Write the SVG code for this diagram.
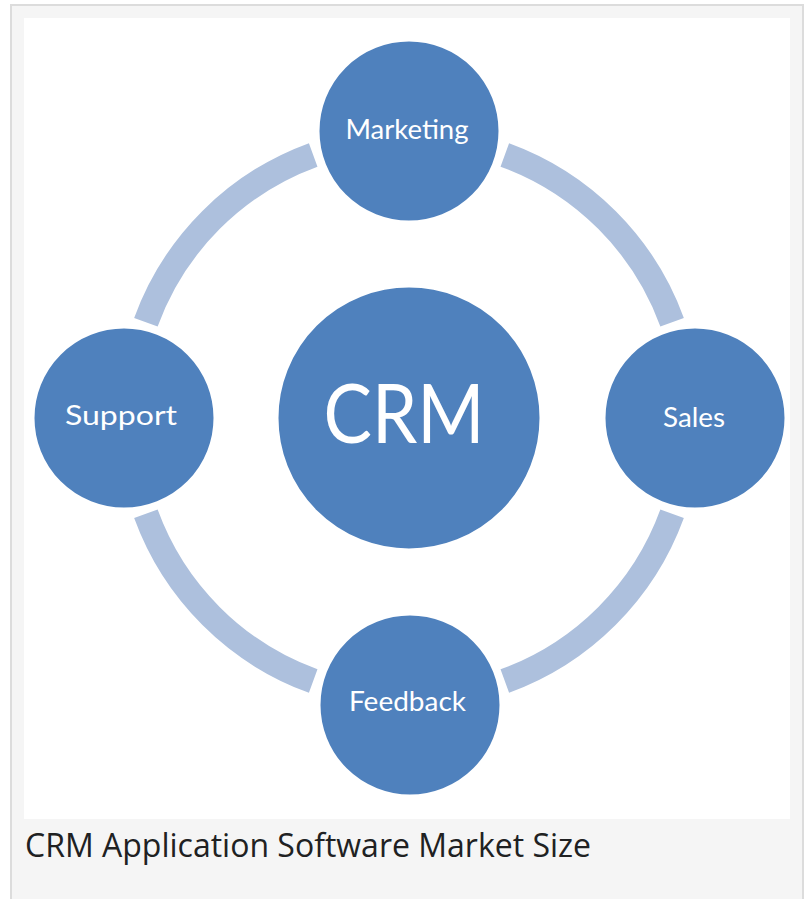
<svg xmlns="http://www.w3.org/2000/svg" width="808" height="899" viewBox="0 0 808 899">
<style>
.node{fill:#4f81bd;stroke:#ffffff;stroke-width:3}
.lbl{fill:#ffffff;font-family:Lato,"Open Sans",sans-serif;font-size:27px;text-anchor:middle}
.ring{fill:none;stroke:#adc0dd;stroke-width:25;stroke-linecap:butt}
.cap{fill:#202122;font-family:"Open Sans","Noto Sans",sans-serif;font-size:32px}
</style>
<rect x="11" y="5" width="792" height="920" fill="#f5f5f5" stroke="#dcdcdc" stroke-width="2"/>
<rect x="24" y="18" width="766" height="801" fill="#ffffff"/>
<g id="connectors">
<path class="ring" d="M 145.9 322.2 A 280 280 0 0 1 313.2 154.9"/>
<path class="ring" d="M 504.8 154.9 A 280 280 0 0 1 672.1 322.2"/>
<path class="ring" d="M 672.1 513.8 A 280 280 0 0 1 504.8 681.1"/>
<path class="ring" d="M 313.2 681.1 A 280 280 0 0 1 145.9 513.8"/>
</g>
<g id="crm">
<circle class="node" cx="409" cy="418" r="132"/>
<text x="404" y="443" fill="#ffffff" font-family="Lato,'Open Sans',sans-serif" font-size="81" text-anchor="middle" textLength="161" lengthAdjust="spacingAndGlyphs">CRM</text>
</g>
<g id="marketing">
<circle class="node" cx="409" cy="131" r="91"/>
<text class="lbl" x="407" y="139" textLength="123" lengthAdjust="spacingAndGlyphs">Marketing</text>
</g>
<g id="sales">
<circle class="node" cx="695" cy="418" r="91"/>
<text class="lbl" x="694" y="427" textLength="62" lengthAdjust="spacingAndGlyphs">Sales</text>
</g>
<g id="feedback">
<circle class="node" cx="410" cy="705" r="91"/>
<text class="lbl" x="407.5" y="711" textLength="117" lengthAdjust="spacingAndGlyphs">Feedback</text>
</g>
<g id="support">
<circle class="node" cx="124" cy="418" r="91"/>
<text class="lbl" x="121" y="425" textLength="112" lengthAdjust="spacingAndGlyphs">Support</text>
</g>
<text class="cap" x="25" y="857">CRM Application Software Market Size</text>
</svg>
